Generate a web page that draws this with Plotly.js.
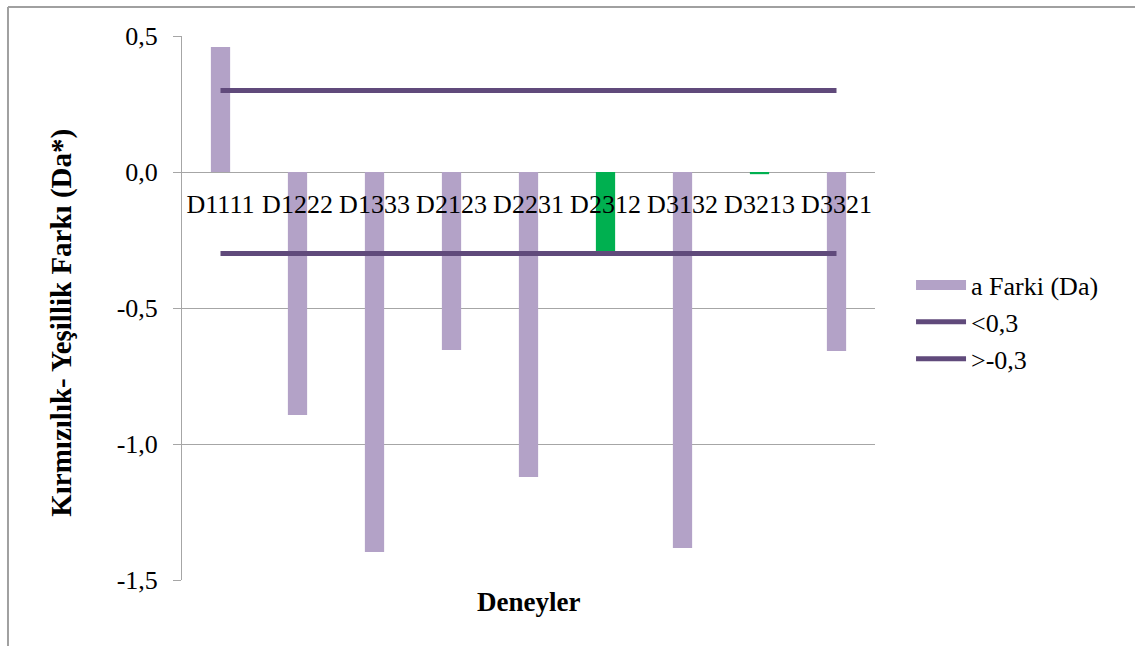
<!DOCTYPE html>
<html>
<head>
<meta charset="utf-8">
<script src="https://cdn.plot.ly/plotly-3.0.1.min.js"></script>
<style>html,body{margin:0;padding:0;background:#fff;}#chart{width:1135px;height:646px;}</style>
</head>
<body>
<div id="chart"></div>
<script>
const categories = ["D1111","D1222","D1333","D2123","D2231","D2312","D3132","D3213","D3321"];
const aFarki = [0.46, -0.893, -1.397, -0.654, -1.121, -0.29, -1.382, -0.008, -0.658];
const barColors = ["#B3A2C7","#B3A2C7","#B3A2C7","#B3A2C7","#B3A2C7","#00B050","#B3A2C7","#00B050","#B3A2C7"];
const upperLimit = [0.3,0.3,0.3,0.3,0.3,0.3,0.3,0.3,0.3];
const lowerLimit = [-0.3,-0.3,-0.3,-0.3,-0.3,-0.3,-0.3,-0.3,-0.3];
const yTickVals = [0.5, 0, -0.5, -1.0, -1.5];
const yTickText = ["0,5", "0,0", "-0,5", "-1,0", "-1,5"];
const seriesNames = ["a Farki (Da)", "<0,3", ">-0,3"];

const FONT = "Liberation Serif";
const GRID = "#A6A6A6";
const LINE = "#604A7B";
const BAR = "#B3A2C7";

const traces = [
  {type:"bar", x:categories, y:aFarki, name:seriesNames[0], width:0.25,
   marker:{color:barColors}, showlegend:false, hoverinfo:"x+y"},
  {type:"scatter", mode:"lines", x:[null], y:[null], name:seriesNames[0],
   line:{color:BAR, width:14}, legendgroup:"g1", hoverinfo:"skip"},
  {type:"scatter", mode:"lines", x:categories, y:upperLimit, name:seriesNames[1],
   line:{color:LINE, width:5}, legendgroup:"g2"},
  {type:"scatter", mode:"lines", x:categories, y:lowerLimit, name:seriesNames[2],
   line:{color:LINE, width:5}, legendgroup:"g3"}
];

const layout = {
  width:1135, height:646,
  margin:{l:182, r:260, t:36, b:66, pad:0},
  paper_bgcolor:"#fff", plot_bgcolor:"#fff",
  font:{family:FONT, size:26, color:"#000"},
  showlegend:true,
  legend:{x:1.052, xanchor:"left", y:0.474, yanchor:"middle", tracegroupgap:0, itemwidth:50,
          font:{family:FONT, size:26, color:"#000"}, bgcolor:"rgba(0,0,0,0)"},
  xaxis:{type:"category", anchor:"free", position:0.75, showline:false, showgrid:false,
         zeroline:false, ticks:"", tickfont:{family:FONT, size:26, color:"#000"}, ticklabelstandoff:14,
         range:[-0.5, 8.5], fixedrange:true},
  yaxis:{range:[-1.5, 0.5], tickvals:yTickVals, ticktext:yTickText, showgrid:true,
         gridcolor:GRID, gridwidth:1, zeroline:true, zerolinecolor:GRID, zerolinewidth:1,
         showline:true, linecolor:GRID, linewidth:1, ticks:"outside", ticklen:8,
         tickcolor:GRID, tickfont:{family:FONT, size:26, color:"#000"}, ticklabelstandoff:10,
         domain:[0,1], fixedrange:true},
  annotations:[
    {text:"<b>Deneyler</b>", xref:"paper", yref:"paper", x:0.5, y:-0.04,
     xanchor:"center", yanchor:"middle", showarrow:false, font:{family:FONT, size:27, color:"#000"}},
    {text:"<b>Kırmızılık- Yeşillik Farkı (Da*)</b>", xref:"paper", yref:"paper", x:-0.173, y:0.473,
     xanchor:"center", yanchor:"middle", textangle:-90, showarrow:false, font:{family:FONT, size:29, color:"#000"}}
  ],
  shapes:[
    {type:"line", xref:"paper", yref:"paper", x0:-0.2511, x1:1.4, y0:1.0533, y1:1.0533,
     line:{color:"#A0A0A0", width:2}},
    {type:"line", xref:"paper", yref:"paper", x0:-0.2511, x1:-0.2511, y0:1.0533, y1:-0.13,
     line:{color:"#A0A0A0", width:2}}
  ]
};

Plotly.newPlot("chart", traces, layout, {displayModeBar:false, staticPlot:true});
</script>
</body>
</html>
